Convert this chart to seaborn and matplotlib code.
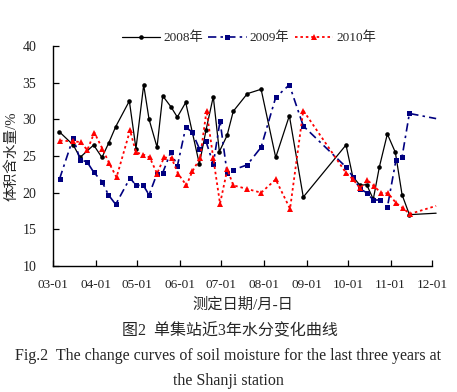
import matplotlib
matplotlib.use("Agg")
import matplotlib.pyplot as plt
import pandas as pd
import seaborn as sns

# x positions are days counted from 03-01
tick_days = [0, 31, 61, 92, 122, 153, 184, 214, 245, 275]
tick_labels = ["03-01", "04-01", "05-01", "06-01", "07-01",
               "08-01", "09-01", "10-01", "11-01", "12-01"]
y_ticks = [10, 15, 20, 25, 30, 35, 40]

day_2008 = [4.6, 14.7, 19.6, 29.5, 35.5, 40.5, 45.5, 55.4, 60.2, 65.8, 69.7,
            75.5, 79.6, 85.6, 90.2, 96.3, 106.2, 111.0, 116.3, 120.7, 126.3,
            130.8, 141.0, 151.0, 161.6, 171.5, 181.6, 212.6, 217.5, 222.8,
            227.6, 232.4, 236.8, 242.6, 248.4, 253.3, 258.6, 278.0]
val_2008 = [28.3, 26.5, 24.8, 26.5, 24.8, 26.8, 29.0, 32.5, 26.0, 34.7, 30.0,
            26.2, 33.2, 31.7, 30.3, 32.3, 23.9, 28.5, 33.1, 25.6, 27.8,
            31.1, 33.5, 34.1, 24.8, 30.5, 19.4, 26.5, 22.2, 21.0,
            21.1, 19.1, 23.5, 28.0, 25.5, 19.7, 17.0, 17.2]

day_2009 = [4.8, 14.7, 19.6, 24.7, 29.5, 35.6, 40.2, 45.5, 55.9, 60.2, 65.5,
            69.7, 75.5, 79.6, 85.6, 90.2, 96.3, 100.9, 106.2, 111.0, 116.3,
            121.2, 126.3, 130.8, 141.0, 151.0, 161.6, 171.5, 181.6, 212.6,
            217.5, 222.8, 227.6, 232.4, 237.3, 242.6, 248.9, 253.3, 258.6,
            278.0]
val_2009 = [21.9, 27.5, 24.5, 24.2, 22.8, 21.5, 19.7, 18.4, 22.0, 21.0, 21.0,
            19.7, 22.6, 22.7, 25.6, 23.6, 28.9, 28.3, 26.0, 27.0, 23.9,
            29.8, 22.7, 23.1, 23.8, 26.2, 33.0, 34.7, 29.1, 23.5,
            22.2, 20.5, 20.0, 19.0, 19.0, 18.0, 24.5, 24.9, 30.8,
            30.1]

day_2010 = [5.1, 14.7, 20.1, 24.9, 30.0, 35.8, 40.8, 46.1, 55.9, 60.2, 65.5,
            70.2, 75.5, 80.6, 86.1, 90.7, 96.8, 101.1, 106.7, 111.4, 116.3,
            121.2, 126.5, 130.8, 141.0, 151.0, 161.6, 172.0, 181.6, 212.6,
            217.8, 222.8, 228.1, 233.0, 237.7, 243.2, 248.9, 253.7, 259.0,
            278.0]
val_2010 = [27.1, 27.0, 26.9, 25.8, 28.2, 26.0, 24.0, 22.1, 28.5, 25.5, 25.2,
            24.8, 22.6, 24.8, 24.7, 22.6, 21.0, 22.9, 24.7, 31.2, 24.7,
            18.5, 23.2, 21.0, 20.5, 20.0, 21.8, 17.8, 31.2, 22.7,
            21.8, 20.6, 21.7, 20.9, 20.0, 19.9, 18.6, 17.9, 17.1,
            18.2]

series_labels = ["2008年", "2009年", "2010年"]

sns.set_style("ticks")
plt.rcParams["font.family"] = ["Liberation Serif", "Noto Sans CJK SC"]
plt.rcParams["axes.unicode_minus"] = False

fig = plt.figure(figsize=(4.57, 3.92), dpi=100)
ax = fig.add_axes([53 / 457, 1 - 266 / 392, (432 - 53) / 457, 220 / 392])

styles = [
    dict(color="black", marker="o", markersize=3.3, linestyle="-", linewidth=0.9),
    dict(color="#000080", marker="s", markersize=3.6,
         linestyle=(0, (5, 2.5, 1.5, 2.5)), linewidth=1.2),
    dict(color="#ff0000", marker="^", markersize=4.6,
         linestyle=(0, (1.4, 1.6)), linewidth=1.3),
]
data = [(day_2008, val_2008), (day_2009, val_2009), (day_2010, val_2010)]

for label, (d, v), st in zip(series_labels, data, styles):
    df = pd.DataFrame({"day": d, "val": v})
    n = len(df)
    sns.lineplot(data=df, x="day", y="val", ax=ax, label=label,
                 estimator=None, sort=False, markevery=list(range(n - 1)),
                 markeredgewidth=0, clip_on=False, **st)

ax.set_xlim(0, 275)
ax.set_ylim(10, 40)
ax.set_xticks(tick_days)
ax.set_xticklabels(tick_labels)
ax.set_yticks(y_ticks)
ax.tick_params(axis="both", direction="in", length=4, width=0.9,
               colors="black", labelcolor="#222222")
ax.tick_params(axis="x", labelsize=9.5, pad=9)
ax.tick_params(axis="y", labelsize=10, pad=12)
for side in ["top", "right"]:
    ax.spines[side].set_visible(False)
for side in ["left", "bottom"]:
    ax.spines[side].set_linewidth(1.0)
    ax.spines[side].set_color("black")

ax.set_xlabel("测定日期/月-日", fontsize=11, labelpad=5)
ax.set_ylabel("体积含水量/%", fontsize=10.5, labelpad=3)

ax.legend(loc="center", bbox_to_anchor=(249 / 457, 1 - 38 / 392),
          bbox_transform=fig.transFigure, ncol=3, frameon=False,
          fontsize=9.5, handlelength=2.9, handletextpad=0.25,
          columnspacing=0.4, borderpad=0, numpoints=1)

fig.text(230 / 457, 1 - 331 / 392, "图2  单集站近3年水分变化曲线",
         ha="center", va="center", fontsize=11.5)
fig.text(228 / 457, 1 - 356 / 392,
         "Fig.2  The change curves of soil moisture for the last three years at",
         ha="center", va="center", fontsize=11.5)
fig.text(228 / 457, 1 - 381 / 392, "the Shanji station",
         ha="center", va="center", fontsize=11.5)

fig.savefig("out.png", dpi=100)
